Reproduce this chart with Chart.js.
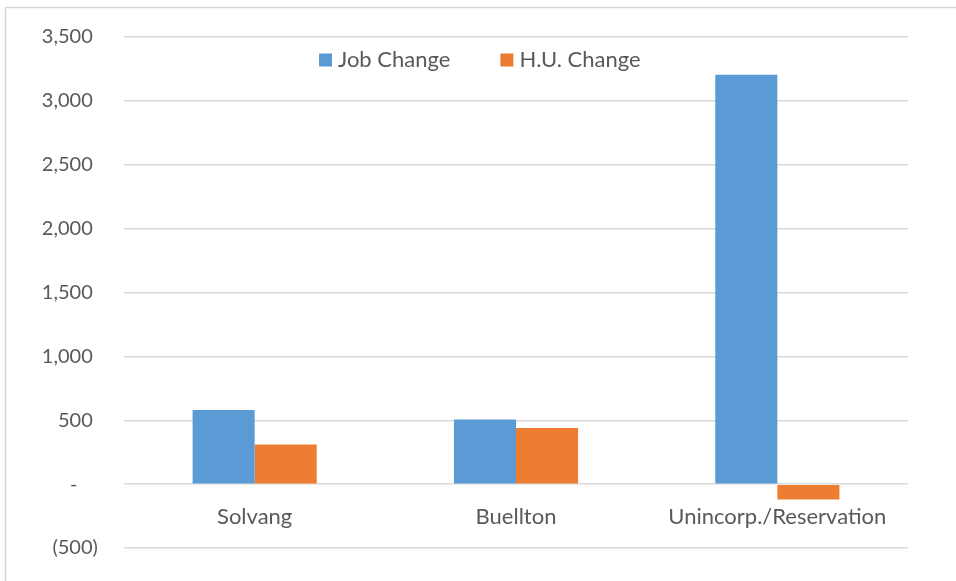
<!DOCTYPE html>
<html>
<head>
<meta charset="utf-8">
<script src="https://cdn.jsdelivr.net/npm/chart.js@4/dist/chart.umd.min.js"></script>
<style>
  html, body { margin: 0; padding: 0; background: #fff; }
  #wrap { width: 956px; height: 581px; }
</style>
</head>
<body>
<div id="wrap"><canvas id="myChart" width="956" height="581"></canvas></div>
<script>
const lugares = ["Solvang", "Buellton", "Unincorp./Reservation"];
const empleos = [580, 505, 3205];
const viviendas = [310, 440, -120];
const yTicks = [-500, 0, 500, 1000, 1500, 2000, 2500, 3000, 3500];

const gris = "#595959";
const fuente = { family: "Lato", size: 20 };
const fuenteCat = { family: "Lato", size: 22 };

// formato contable: 0 -> "-", negativos entre parentesis
function formato(v) {
  if (v === 0) return "-     ";
  const s = Math.abs(v).toLocaleString("en-US");
  return v < 0 ? "(" + s + ") " : s + "  ";
}

// marco gris del grafico
const marco = {
  id: "marco",
  beforeDraw(chart) {
    const c = chart.ctx;
    c.save();
    c.fillStyle = "#fff";
    c.fillRect(0, 0, chart.width, chart.height);
    c.strokeStyle = "#d9d9d9";
    c.lineWidth = 1.5;
    c.beginPath();
    c.moveTo(5.5, chart.height);
    c.lineTo(5.5, 7.5);
    c.lineTo(chart.width, 7.5);
    c.stroke();
    c.restore();
  }
};

// leyenda horizontal dentro del area, como en Excel
const leyenda = {
  id: "leyenda",
  afterDraw(chart) {
    const c = chart.ctx;
    c.save();
    c.font = fuenteCat.size + "px " + fuenteCat.family;
    c.textBaseline = "middle";
    let x = 319;
    const y = 60;
    chart.data.datasets.forEach(ds => {
      c.fillStyle = ds.backgroundColor;
      c.fillRect(x, y - 6.5, 13, 13);
      c.fillStyle = gris;
      c.fillText(ds.label, x + 19, y);
      x += 19 + c.measureText(ds.label).width + 50;
    });
    c.restore();
  }
};

const ctx = document.getElementById("myChart").getContext("2d");
const myChart = new Chart(ctx, {
  type: "bar",
  data: {
    labels: lugares,
    datasets: [
      {
        label: "Job Change",
        data: empleos,
        backgroundColor: "#5b9bd5",
        borderWidth: 0,
      },
      {
        label: "H.U. Change",
        data: viviendas,
        backgroundColor: "#ed7d31",
        borderWidth: 0,
      },
    ],
  },
  options: {
    responsive: false,
    animation: false,
    layout: { padding: { left: 0, right: 48, top: 37, bottom: 20 } },
    datasets: {
      bar: { categoryPercentage: 0.475, barPercentage: 1 }
    },
    plugins: {
      legend: { display: false },
      tooltip: { enabled: false },
    },
    scales: {
      x: {
        position: { y: 0 },
        grid: { display: false },
        border: { display: false },
        ticks: { color: gris, font: fuenteCat, padding: 12, maxRotation: 0 },
      },
      y: {
        min: -500,
        max: 3500,
        afterBuildTicks(scale) { scale.ticks = yTicks.map(v => ({ value: v })); },
        grid: { color: "#d9d9d9", lineWidth: 1.5, drawTicks: false },
        border: { display: false },
        ticks: {
          color: gris,
          font: fuente,
          padding: 21,
          callback: (v) => formato(v),
        },
        afterFit(scale) { scale.width = 124; },
      },
    },
  },
  plugins: [marco, leyenda],
});
</script>
</body>
</html>
